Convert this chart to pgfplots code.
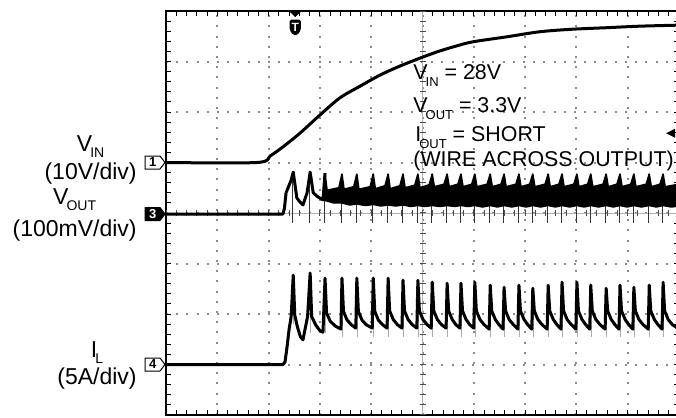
\documentclass[border=0pt]{standalone}
\usepackage{pgfplots}
\pgfplotsset{compat=1.18}
\usepackage{fontspec}
\setmainfont{Liberation Sans}
\newcommand{\lsub}[1]{\kern-1.0pt\raisebox{-3pt}{\fontsize{7pt}{8pt}\selectfont #1}}
\newcommand{\asub}[1]{\kern-1.0pt\raisebox{-3.3pt}{\fontsize{6.5pt}{7pt}\selectfont #1}}
\begin{document}
\begin{tikzpicture}
\begin{axis}[
 at={(83pt,1.5pt)}, anchor=south west,
 scale only axis, width=256.5pt, height=202pt,
 xmin=0,xmax=10,ymin=0,ymax=8,
 xtick={0,...,10}, ytick={0,...,8},
 minor x tick num=4, minor y tick num=4,
 xticklabels={}, yticklabels={},
 tick align=inside, tick pos=both,
 major tick length=2.5pt, minor tick length=2.5pt,
 tick style={black, line width=0.5pt},
 grid=major,
 major grid style={black!45, line width=1pt, dash pattern=on 1pt off 4.1pt},
 axis line style={line width=1pt},
 clip=false,
 unbounded coords=jump,
]
% centre cross
\draw[gray!60, line width=0.4pt] (axis cs:5,0) -- (axis cs:5,8);
\draw[black!70, line width=3pt, dash pattern=on 0.5pt off 4.55pt, dash phase=0.25pt] (axis cs:5,0) -- (axis cs:5,8);
\draw[gray!60, line width=0.4pt] (axis cs:0,4) -- (axis cs:10,4);
\draw[black!70, line width=3pt, dash pattern=on 0.5pt off 4.63pt, dash phase=0.25pt] (axis cs:0,4) -- (axis cs:10,4);

% ---------------- VIN (channel 1)
\addplot[black, line width=1.5pt, smooth, tension=0.5] coordinates {
(0,5.0) (1.77,5.0) (2.03,5.13) (2.28,5.31) (2.61,5.58) (3.00,5.94) (3.39,6.28)
(3.78,6.51) (4.17,6.73) (4.56,6.91) (5.01,7.09) (5.34,7.21) (5.67,7.31) (5.98,7.39)
(6.65,7.49) (7.29,7.59) (7.93,7.64) (8.60,7.67) (9.24,7.70) (10.0,7.72)};

% ---------------- IL (channel 4): fast edges (grey) and trace
\addplot[gray!65, line width=0.5pt] coordinates {
(2.49,2.77) (2.49,1.80) (2.49,nan)
(2.82,2.81) (2.82,1.62) (2.82,nan)
(3.11,2.71) (3.11,1.62) (3.11,nan)
(3.44,2.71) (3.44,1.55) (3.44,nan)
(3.73,2.71) (3.73,1.55) (3.73,nan)
(4.05,2.71) (4.05,1.55) (4.05,nan)
(4.34,2.71) (4.34,1.55) (4.34,nan)
(4.63,2.67) (4.63,1.55) (4.63,nan)
(4.92,2.67) (4.92,1.55) (4.92,nan)
(5.20,2.63) (5.20,1.55) (5.20,nan)
(5.49,2.61) (5.49,1.55) (5.49,nan)
(5.76,2.61) (5.76,1.55) (5.76,nan)
(6.03,2.63) (6.03,1.55) (6.03,nan)
(6.33,2.57) (6.33,1.55) (6.33,nan)
(6.60,2.53) (6.60,1.55) (6.60,nan)
(6.89,2.57) (6.89,1.55) (6.89,nan)
(7.16,2.51) (7.16,1.55) (7.16,nan)
(7.46,2.57) (7.46,1.55) (7.46,nan)
(7.73,2.63) (7.73,1.55) (7.73,nan)
(8.02,2.63) (8.02,1.55) (8.02,nan)
(8.29,2.57) (8.29,1.55) (8.29,nan)
(8.59,2.51) (8.59,1.55) (8.59,nan)
(8.86,2.57) (8.86,1.55) (8.86,nan)
(9.13,2.53) (9.13,1.55) (9.13,nan)
(9.43,2.57) (9.43,1.55) (9.43,nan)
(9.70,2.63) (9.70,1.55)};
\addplot[black, line width=1.5pt, line join=round] coordinates {
(0,1.0) (2.28,1.0) (2.32,1.05) (2.36,1.35) (2.40,1.70) (2.44,1.95) (2.48,2.77)
(2.51,1.98) (2.56,1.75) (2.62,1.55) (2.67,1.49) (2.76,1.95) (2.81,2.81)
(2.84,1.95) (2.92,1.78) (3.00,1.67) (3.06,1.64) (3.10,2.71)
(3.13,2.02) (3.20,1.86) (3.30,1.76) (3.41,1.70) (3.43,2.71)
(3.46,2.05) (3.53,1.88) (3.61,1.79) (3.70,1.72) (3.72,2.71)
(3.75,2.05) (3.82,1.88) (3.90,1.79) (4.02,1.72) (4.04,2.71)
(4.07,2.05) (4.14,1.88) (4.22,1.79) (4.31,1.72) (4.33,2.71)
(4.36,2.06) (4.43,1.89) (4.51,1.79) (4.60,1.72) (4.62,2.67)
(4.65,2.06) (4.72,1.89) (4.80,1.79) (4.89,1.72) (4.91,2.67)
(4.94,2.06) (5.01,1.89) (5.09,1.79) (5.17,1.72) (5.19,2.63)
(5.22,2.06) (5.29,1.89) (5.37,1.79) (5.46,1.72) (5.48,2.61)
(5.51,2.06) (5.58,1.89) (5.65,1.79) (5.73,1.72) (5.75,2.61)
(5.78,2.06) (5.85,1.89) (5.92,1.79) (6.00,1.72) (6.02,2.63)
(6.05,2.06) (6.12,1.89) (6.20,1.79) (6.30,1.70) (6.32,2.57)
(6.35,2.06) (6.42,1.89) (6.49,1.79) (6.57,1.70) (6.59,2.53)
(6.62,2.06) (6.69,1.89) (6.77,1.79) (6.86,1.70) (6.88,2.57)
(6.91,2.06) (6.98,1.89) (7.05,1.79) (7.13,1.70) (7.15,2.51)
(7.18,2.06) (7.25,1.89) (7.33,1.79) (7.43,1.70) (7.45,2.57)
(7.48,2.06) (7.55,1.89) (7.62,1.79) (7.70,1.70) (7.72,2.63)
(7.75,2.06) (7.82,1.89) (7.90,1.79) (7.99,1.70) (8.01,2.63)
(8.04,2.06) (8.11,1.89) (8.18,1.79) (8.26,1.70) (8.28,2.57)
(8.31,2.06) (8.38,1.89) (8.46,1.79) (8.56,1.70) (8.58,2.51)
(8.61,2.06) (8.68,1.89) (8.75,1.79) (8.83,1.70) (8.85,2.57)
(8.88,2.06) (8.95,1.89) (9.02,1.79) (9.10,1.70) (9.12,2.53)
(9.15,2.06) (9.22,1.89) (9.30,1.79) (9.40,1.70) (9.42,2.57)
(9.45,2.06) (9.52,1.89) (9.59,1.79) (9.67,1.70) (9.69,2.63)
(9.72,2.06) (9.79,1.89) (9.87,1.79) (10.0,1.70)};

% ---------------- VOUT (channel 3): downward spikes, start-up trace, noisy band
\addplot[black!80, line width=0.6pt] coordinates {
(2.47,4.78) (2.47,3.80) (2.47,nan)
(2.80,4.78) (2.80,3.80) (2.80,nan)
(3.09,4.78) (3.09,3.80) (3.09,nan)
(3.42,4.78) (3.42,3.80) (3.42,nan)
(3.71,4.78) (3.71,3.80) (3.71,nan)
(4.03,4.78) (4.03,3.80) (4.03,nan)
(4.32,4.78) (4.32,3.80) (4.32,nan)
(4.61,4.78) (4.61,3.80) (4.61,nan)
(4.90,4.78) (4.90,3.80) (4.90,nan)
(5.18,4.78) (5.18,3.80) (5.18,nan)
(5.47,4.78) (5.47,3.80) (5.47,nan)
(5.74,4.78) (5.74,3.80) (5.74,nan)
(6.01,4.78) (6.01,3.80) (6.01,nan)
(6.31,4.78) (6.31,3.80) (6.31,nan)
(6.58,4.78) (6.58,3.80) (6.58,nan)
(6.87,4.78) (6.87,3.80) (6.87,nan)
(7.14,4.78) (7.14,3.80) (7.14,nan)
(7.44,4.78) (7.44,3.80) (7.44,nan)
(7.71,4.78) (7.71,3.80) (7.71,nan)
(8.00,4.78) (8.00,3.80) (8.00,nan)
(8.27,4.78) (8.27,3.80) (8.27,nan)
(8.57,4.78) (8.57,3.80) (8.57,nan)
(8.84,4.78) (8.84,3.80) (8.84,nan)
(9.11,4.78) (9.11,3.80) (9.11,nan)
(9.41,4.78) (9.41,3.80) (9.41,nan)
(9.68,4.78) (9.68,3.80)};
\addplot[black, line width=1.5pt, line join=round] coordinates {
(0,3.98) (2.28,3.98) (2.31,4.10) (2.34,4.40) (2.44,4.65) (2.48,4.81) (2.55,4.30)
(2.61,4.22) (2.67,4.16) (2.75,4.40) (2.81,4.81) (2.87,4.40) (2.96,4.32) (3.06,4.26) (3.10,4.79)};
\addplot[black, fill=black, line width=0.8pt, line join=round] coordinates {
(3.10,4.77) (3.14,4.45) (3.37,4.50)
(3.43,4.77) (3.47,4.47) (3.66,4.52)
(3.72,4.77) (3.76,4.47) (3.98,4.52)
(4.04,4.77) (4.08,4.48) (4.27,4.54)
(4.33,4.77) (4.37,4.48) (4.56,4.54)
(4.62,4.77) (4.66,4.50) (4.85,4.55)
(4.91,4.77) (4.95,4.50) (5.13,4.56)
(5.19,4.77) (5.23,4.52) (5.42,4.57)
(5.48,4.77) (5.52,4.52) (5.69,4.57)
(5.75,4.77) (5.79,4.52) (5.96,4.57)
(6.02,4.77) (6.06,4.52) (6.26,4.57)
(6.32,4.77) (6.36,4.52) (6.53,4.57)
(6.59,4.77) (6.63,4.52) (6.82,4.57)
(6.88,4.77) (6.92,4.52) (7.09,4.57)
(7.15,4.77) (7.19,4.52) (7.39,4.57)
(7.45,4.77) (7.49,4.52) (7.66,4.57)
(7.72,4.77) (7.76,4.52) (7.95,4.57)
(8.01,4.77) (8.05,4.52) (8.22,4.57)
(8.28,4.77) (8.32,4.52) (8.52,4.57)
(8.58,4.77) (8.62,4.52) (8.79,4.57)
(8.85,4.77) (8.89,4.52) (9.06,4.57)
(9.12,4.77) (9.16,4.52) (9.36,4.57)
(9.42,4.77) (9.46,4.52) (9.63,4.57)
(9.69,4.77) (9.73,4.52) (10.0,4.57)
(10.0,4.14) (9.85,4.12) (9.69,4.15) (9.56,4.12) (9.42,4.15) (9.27,4.12) (9.12,4.15)
(8.99,4.12) (8.85,4.15) (8.72,4.12) (8.58,4.15) (8.43,4.12) (8.28,4.15) (8.15,4.12)
(8.01,4.15) (7.87,4.12) (7.72,4.15) (7.59,4.12) (7.45,4.15) (7.30,4.12) (7.15,4.15)
(7.02,4.12) (6.88,4.15) (6.74,4.12) (6.59,4.15) (6.46,4.12) (6.32,4.15) (6.17,4.12)
(6.02,4.15) (5.89,4.13) (5.75,4.15) (5.62,4.13) (5.48,4.15) (5.34,4.13) (5.19,4.15)
(5.05,4.13) (4.91,4.15) (4.77,4.13) (4.62,4.16) (4.48,4.14) (4.33,4.16) (4.19,4.14)
(4.04,4.17) (3.88,4.15) (3.72,4.18) (3.58,4.16) (3.43,4.20) (3.27,4.20) (3.10,4.25)} -- cycle;

% ---------------- channel markers
\draw[fill=white, line width=0.5pt] ([xshift=-0.5pt]axis cs:0,5) -- ++(-2.5pt,3.25pt) -- ++(-7.5pt,0) -- ++(0,-6.5pt) -- ++(7.5pt,0) -- cycle;
\node[font=\fontsize{6.5pt}{7pt}\selectfont\bfseries, inner sep=0pt] at ([xshift=-6.6pt]axis cs:0,5) {1};
\draw[fill=black, line width=0.5pt] ([xshift=-0.5pt]axis cs:0,3.98) -- ++(-2.5pt,3.25pt) -- ++(-7.5pt,0) -- ++(0,-6.5pt) -- ++(7.5pt,0) -- cycle;
\node[text=white, font=\fontsize{6.5pt}{7pt}\selectfont\bfseries, inner sep=0pt] at ([xshift=-6.6pt]axis cs:0,3.98) {3};
\draw[fill=white, line width=0.5pt] ([xshift=-0.5pt]axis cs:0,1.0) -- ++(-2.5pt,3.25pt) -- ++(-7.5pt,0) -- ++(0,-6.5pt) -- ++(7.5pt,0) -- cycle;
\node[font=\fontsize{6.5pt}{7pt}\selectfont\bfseries, inner sep=0pt] at ([xshift=-6.6pt]axis cs:0,1.0) {4};

% trigger position marker
\fill ([xshift=-3.2pt]axis cs:2.52,8) -- ([xshift=3.2pt]axis cs:2.52,8) -- ([yshift=-3pt]axis cs:2.52,8) -- cycle;
\fill[rounded corners=0.8pt] ([xshift=-2.8pt,yshift=-4.3pt]axis cs:2.52,8) -- ++(5.6pt,0) -- ++(0,-5.2pt) -- ++(-1.8pt,-2.6pt) -- ++(-2pt,0) -- ++(-1.8pt,2.6pt) -- cycle;
\node[text=white, font=\fontsize{6pt}{6pt}\selectfont\bfseries, inner sep=0pt] at ([yshift=-8pt]axis cs:2.52,8) {T};
% trigger level marker
\fill (axis cs:9.75,5.58) -- ++(4.5pt,2.3pt) -- ++(0,-4.6pt) -- cycle;
\end{axis}

% left labels
\begin{scope}[every node/.style={inner sep=0pt, font=\fontsize{11.5pt}{13pt}\selectfont}]
\node[anchor=base east] (l1) at (68.5pt,119pt) {(10V/div)};
\node[anchor=base] at ([yshift=14pt]l1.base) {V\lsub{IN}};
\node[anchor=base east] (l3) at (68.5pt,90.5pt) {(100mV/div)};
\node[anchor=base] at ([yshift=16pt]l3.base) {V\lsub{OUT}};
\node[anchor=base east] (l4) at (68.5pt,16.5pt) {(5A/div)};
\node[anchor=base] at ([yshift=13.5pt]l4.base) {I\lsub{L}};
\end{scope}
% conditions
\begin{scope}[every node/.style={inner sep=0pt, anchor=base west, font=\fontsize{10.7pt}{12pt}\selectfont}]
\node at (206.5pt,169pt) {V\asub{IN} = 28V};
\node at (206.5pt,152.5pt) {V\asub{OUT} = 3.3V};
\node at (207.5pt,138pt) {I\asub{OUT} = SHORT};
\node at (206.5pt,125.5pt) {(WIRE ACROSS OUTPUT)};
\end{scope}
\pgfresetboundingbox
\useasboundingbox (0,0) rectangle (338pt,209pt);
\end{tikzpicture}
\end{document}
